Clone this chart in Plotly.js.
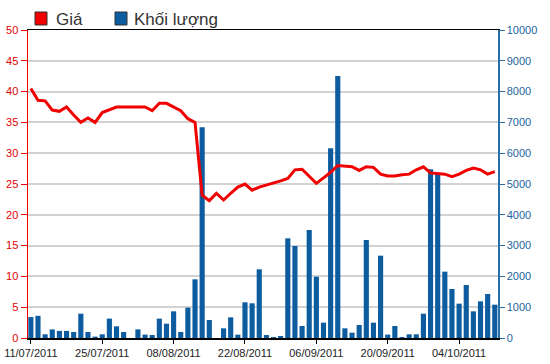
<!DOCTYPE html>
<html>
<head>
<meta charset="utf-8">
<script src="https://cdn.plot.ly/plotly-3.0.1.min.js"></script>
<style>html,body{margin:0;padding:0;background:#fff;}#chart{width:550px;height:364px;}</style>
</head>
<body>
<div id="chart"></div>
<script>
const dates = [
"11/07/2011","12/07/2011","13/07/2011","14/07/2011","15/07/2011",
"18/07/2011","19/07/2011","20/07/2011","21/07/2011","22/07/2011",
"25/07/2011","26/07/2011","27/07/2011","28/07/2011","29/07/2011",
"01/08/2011","02/08/2011","03/08/2011","04/08/2011","05/08/2011",
"08/08/2011","09/08/2011","10/08/2011","11/08/2011","12/08/2011",
"15/08/2011","16/08/2011","17/08/2011","18/08/2011","19/08/2011",
"22/08/2011","23/08/2011","24/08/2011","25/08/2011","26/08/2011",
"29/08/2011","30/08/2011","31/08/2011","01/09/2011","05/09/2011",
"06/09/2011","07/09/2011","08/09/2011","09/09/2011","12/09/2011",
"13/09/2011","14/09/2011","15/09/2011","16/09/2011","19/09/2011",
"20/09/2011","21/09/2011","22/09/2011","23/09/2011","26/09/2011",
"27/09/2011","28/09/2011","29/09/2011","30/09/2011","03/10/2011",
"04/10/2011","05/10/2011","06/10/2011","07/10/2011","10/10/2011",
"11/10/2011"];

const price = [
40.5,38.6,38.5,37.0,36.8,37.5,36.2,35.0,35.7,35.0,
36.6,37.0,37.5,37.5,37.5,37.5,37.5,36.9,38.1,38.1,
37.5,36.9,35.6,35.0,23.2,22.3,23.5,22.4,23.5,24.5,
25.0,24.0,24.5,24.8,25.2,25.5,25.9,27.3,27.4,26.3,
25.1,26.0,26.9,28.0,27.9,27.8,27.2,27.8,27.7,26.6,
26.3,26.3,26.5,26.6,27.3,27.8,26.8,26.7,26.6,26.2,
26.6,27.2,27.6,27.3,26.6,27.0];

const volume = [
680,720,120,280,230,230,195,790,195,45,
120,630,380,195,0,280,110,97,630,465,
866,195,985,1905,6840,584,0,314,672,108,
1159,1127,2230,97,32,65,3236,2987,390,3507,
1991,498,6159,8507,314,173,422,3182,498,2673,
110,390,32,120,120,790,5477,5368,2154,1591,
1115,1721,866,1191,1429,1082];

const tickDates = ["11/07/2011","25/07/2011","08/08/2011","22/08/2011","06/09/2011","20/09/2011","04/10/2011"];
const seriesNames = ["Giá","Khối lượng"];

const RED = "#f00000";
const BLUE = "#0d5c9f";
const BLUEAX = "#2a6ea8";
const FONT = "Liberation Sans, Arial, sans-serif";

// plot area in pixels: left 28, width 470, top 30, height 308
const PX = p => (p - 28) / 470;
const PY = p => (338 - p) / 308;

const data = [
  {type:"bar", name:seriesNames[1], x:dates, y:volume, yaxis:"y", width:0.72,
   marker:{color:BLUE, line:{width:0}}, showlegend:false},
  {type:"scatter", mode:"lines", name:seriesNames[0], x:dates, y:price, yaxis:"y2",
   line:{color:RED, width:3}, showlegend:false}
];

const legendColors = [RED, BLUE];
const legendIconLeft = [35, 115];
const legendTextLeft = [54, 132];

const shapes = legendColors.map((c, i) => ({
  type:"rect", xref:"paper", yref:"paper", layer:"above",
  x0:PX(legendIconLeft[i]), x1:PX(legendIconLeft[i] + 12),
  y0:PY(25), y1:PY(12),
  fillcolor:c, line:{color:"#333", width:1}
}));

const annotations = seriesNames.map((n, i) => ({
  text:n, xref:"paper", yref:"paper", x:PX(legendTextLeft[i]), y:PY(19.5),
  xanchor:"left", yanchor:"middle", showarrow:false,
  font:{family:FONT, size:17, color:"#333"}
}));

const layout = {
  width:550, height:364,
  margin:{l:28, r:52, t:30, b:26, pad:0, autoexpand:false},
  paper_bgcolor:"#fff", plot_bgcolor:"#fff",
  font:{family:FONT, size:11, color:"#222"},
  barmode:"overlay",
  showlegend:false,
  shapes:shapes,
  annotations:annotations,
  xaxis:{type:"category", categoryorder:"trace", range:[-0.4, 65.45],
    showline:true, linecolor:"#000", linewidth:1.5, mirror:true,
    ticks:"outside", ticklen:4, tickcolor:"#000", tickwidth:1,
    tickvals:tickDates, ticktext:tickDates,
    tickfont:{family:FONT, size:11, color:"#222"},
    showgrid:false, zeroline:false, fixedrange:true},
  yaxis:{side:"right", range:[0,10000], dtick:1000, tick0:0, tickformat:"d",
    showgrid:true, gridcolor:"#d2d2d2", gridwidth:2,
    showline:true, linecolor:BLUEAX, linewidth:1.5,
    ticks:"outside", ticklen:5, tickcolor:BLUEAX,
    tickfont:{family:FONT, size:11, color:"#1a64a0"},
    zeroline:false, fixedrange:true},
  yaxis2:{overlaying:"y", side:"left", range:[0,50], dtick:5, tick0:0,
    showgrid:false, showline:true, linecolor:RED, linewidth:1.5,
    ticks:"outside", ticklen:6, tickcolor:RED,
    tickfont:{family:FONT, size:11, color:"#e00000"},
    zeroline:false, fixedrange:true}
};

Plotly.newPlot("chart", data, layout, {displayModeBar:false, staticPlot:true});
</script>
</body>
</html>
